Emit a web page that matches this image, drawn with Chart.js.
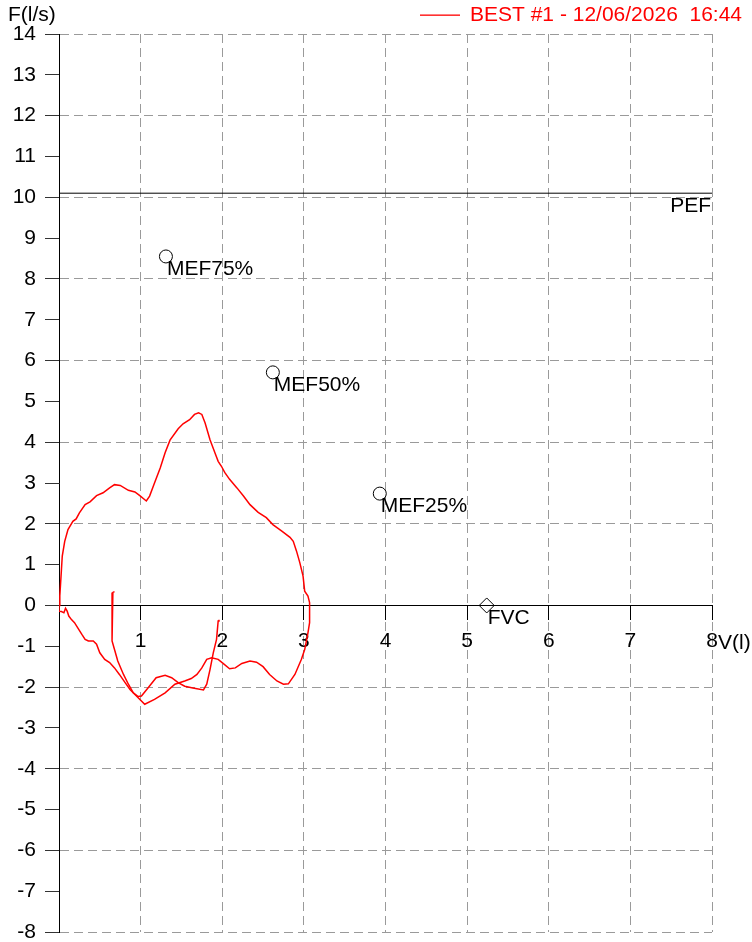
<!DOCTYPE html>
<html>
<head>
<meta charset="utf-8">
<title>Flow-volume loop</title>
<script src="https://cdn.jsdelivr.net/npm/chart.js@4/dist/chart.umd.min.js"></script>
<style>
  html, body { margin: 0; padding: 0; background: #fff; }
</style>
</head>
<body>
<canvas id="loopChart" width="752" height="942"></canvas>
<script>
// Expiration + inspiration loop (volume in l, flow in l/s)
const loopVolume = [0, 0.01, 0.03, 0.04, 0.07, 0.11, 0.17, 0.21, 0.25, 0.32, 0.38, 0.46, 0.54, 0.62, 0.68, 0.75, 0.85, 0.93, 0.99, 1.07,
  1.11, 1.17, 1.24, 1.30, 1.36, 1.46, 1.52, 1.60, 1.66, 1.71, 1.75, 1.79, 1.85, 1.91, 1.95, 1.99, 2.03, 2.09, 2.18, 2.26,
  2.34, 2.44, 2.54, 2.62, 2.73, 2.83, 2.87, 2.91, 2.95, 2.99, 3.01, 3.05, 3.07,
  3.07, 3.07, 3.05, 3.01, 2.97, 2.89, 2.81, 2.75, 2.67, 2.58, 2.50, 2.42, 2.34, 2.24, 2.16, 2.09, 2.01, 1.95, 1.87, 1.81,
  1.75, 1.69, 1.62, 1.54, 1.42, 1.30, 1.17, 1.05, 0.97, 0.93, 0.87, 0.81, 0.74, 0.68, 0.62, 0.56, 0.50, 0.46, 0.42, 0.36,
  0.32, 0.28, 0.23, 0.19, 0.15, 0.12, 0.10, 0.08, 0.06, 0.03, 0, 0];
const loopFlow = [0, 0.23, 0.88, 1.21, 1.57, 1.86, 2.06, 2.12, 2.27, 2.47, 2.54, 2.69, 2.76, 2.88, 2.96, 2.94, 2.82, 2.78, 2.69, 2.56,
  2.68, 3.00, 3.37, 3.74, 4.05, 4.33, 4.45, 4.55, 4.68, 4.72, 4.68, 4.47, 4.06, 3.74, 3.53, 3.41, 3.26, 3.09, 2.88, 2.68,
  2.47, 2.28, 2.15, 1.98, 1.82, 1.67, 1.57, 1.33, 1.05, 0.72, 0.35, 0.23, 0.07,
  -0.10, -0.42, -0.67, -1.08, -1.32, -1.69, -1.92, -1.93, -1.85, -1.69, -1.50, -1.39, -1.36, -1.42, -1.53, -1.55, -1.42, -1.32, -1.28, -1.32,
  -1.53, -1.69, -1.79, -1.85, -1.93, -2.14, -2.30, -2.42, -2.26, -2.18, -2.06, -1.89, -1.69, -1.53, -1.40, -1.32, -1.16, -0.95, -0.87, -0.87,
  -0.83, -0.71, -0.55, -0.42, -0.34, -0.26, -0.14, -0.07, -0.18, -0.15, -0.14, 0];

// Separate inspiratory trace starting near 0.66 l
const tailVolume = [0.68, 0.66, 0.65, 0.65, 0.68, 0.72, 0.79, 0.85, 0.91, 0.97, 1.01, 1.09, 1.19, 1.30, 1.38, 1.46, 1.54, 1.64, 1.77, 1.81,
  1.85, 1.89, 1.93, 1.95, 1.96];
const tailFlow = [0.34, 0.32, 0.02, -0.87, -1.08, -1.36, -1.69, -1.93, -2.14, -2.23, -2.22, -2.02, -1.77, -1.71, -1.77, -1.89, -1.98, -2.02, -2.07, -1.93,
  -1.57, -1.16, -0.83, -0.38, -0.35];

// Predicted values
const mefLabels = ['MEF75%', 'MEF50%', 'MEF25%'];
const mefVolume = [1.31, 2.62, 3.93];
const mefFlow = [8.55, 5.71, 2.74];
const fvcVolume = 5.24;
const pefFlow = 10.1;

const legendText = 'BEST #1 - 12/06/2026  16:44';
const FONT = '"Liberation Sans", Arial, sans-serif';

const toPoints = (xs, ys) => xs.map((v, i) => ({ x: v, y: ys[i] }));

// Draws axis titles, marker labels and the legend
const labelsPlugin = {
    id: 'loopLabels',
    afterDatasetsDraw(chart) {
        const { ctx, scales: { x, y } } = chart;
        const zeroY = y.getPixelForValue(0);
        ctx.save();
        ctx.font = '21px ' + FONT;
        ctx.textBaseline = 'middle';
        ctx.fillStyle = '#000';
        ctx.textAlign = 'left';
        ctx.fillText('F(l/s)', 8, 15);
        ctx.fillText('V(l)', x.getPixelForValue(8) + 6, zeroY + 38);

        mefLabels.forEach((label, i) => {
            ctx.fillText(label, x.getPixelForValue(mefVolume[i]) + 1, y.getPixelForValue(mefFlow[i]) + 13);
        });
        ctx.fillText('FVC', x.getPixelForValue(fvcVolume) + 1, zeroY + 13);

        ctx.textAlign = 'right';
        ctx.fillText('PEF', x.right - 1, y.getPixelForValue(pefFlow) + 13);

        // legend
        ctx.fillStyle = '#ff0000';
        ctx.fillRect(420, 14.5, 40, 1.3);
        ctx.textAlign = 'left';
        ctx.fillText(legendText, 470, 15);
        ctx.restore();
    }
};

const ctx = document.getElementById('loopChart').getContext('2d');
new Chart(ctx, {
    type: 'scatter',
    data: {
        datasets: [
            {
                data: toPoints(loopVolume, loopFlow),
                showLine: true,
                borderColor: '#ff0000',
                borderWidth: 1.5,
                pointRadius: 0,
                fill: false
            },
            {
                data: toPoints(tailVolume, tailFlow),
                showLine: true,
                borderColor: '#ff0000',
                borderWidth: 1.5,
                pointRadius: 0,
                fill: false
            },
            {
                data: [{ x: 0, y: pefFlow }, { x: 8, y: pefFlow }],
                showLine: true,
                borderColor: '#000',
                borderWidth: 1,
                pointRadius: 0
            },
            {
                data: toPoints(mefVolume, mefFlow),
                pointStyle: 'circle',
                pointRadius: 6.5,
                borderColor: '#000',
                borderWidth: 1,
                backgroundColor: 'rgba(0,0,0,0)'
            },
            {
                data: [{ x: fvcVolume, y: 0 }],
                pointStyle: 'rectRot',
                pointRadius: 7.5,
                borderColor: '#000',
                borderWidth: 1,
                backgroundColor: 'rgba(0,0,0,0)'
            }
        ]
    },
    options: {
        responsive: false,
        animation: false,
        events: [],
        layout: { padding: { top: 34, right: 40, bottom: 10, left: 0 } },
        plugins: {
            legend: { display: false },
            tooltip: { enabled: false }
        },
        font: { family: FONT, size: 21 },
        scales: {
            x: {
                type: 'linear',
                position: { y: 0 },
                min: 0,
                max: 8,
                ticks: {
                    stepSize: 1,
                    padding: 9,
                    color: '#000',
                    font: { family: FONT, size: 21 },
                    maxRotation: 0,
                    callback: (value) => (value === 0 ? '' : value)
                },
                grid: {
                    color: '#9a9a9a',
                    tickLength: 14,
                    tickColor: '#000',
                    tickBorderDash: []
                },
                border: { color: '#000', width: 1, dash: [9, 5] }
            },
            y: {
                type: 'linear',
                position: 'left',
                min: -8,
                max: 14,
                ticks: {
                    stepSize: 1,
                    padding: 9,
                    color: '#000',
                    font: { family: FONT, size: 21 }
                },
                grid: {
                    color: (c) => (c.tick && c.tick.value % 2 === 0 ? '#9a9a9a' : 'rgba(0,0,0,0)'),
                    tickLength: 14,
                    tickColor: '#333',
                    tickBorderDash: []
                },
                border: { color: '#000', width: 1, dash: [9, 5] },
                afterFit: (scale) => {
                    scale.width = 59;
                    scale.paddingTop = 0;
                    scale.paddingBottom = 0;
                }
            }
        }
    },
    plugins: [labelsPlugin]
});
</script>
</body>
</html>
